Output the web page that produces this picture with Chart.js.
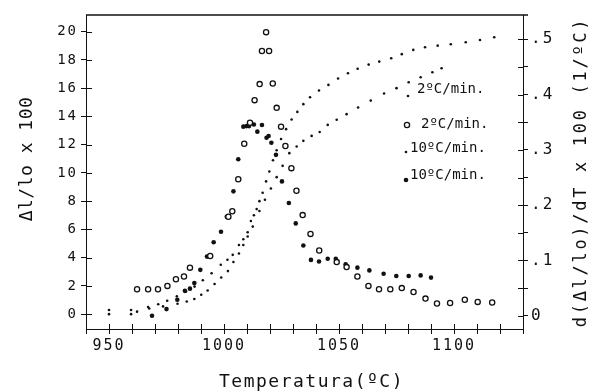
<!DOCTYPE html>
<html>
<head>
<meta charset="utf-8">
<style>
  html, body { margin: 0; padding: 0; background: #fff; }
</style>
<script src="https://cdn.jsdelivr.net/npm/chart.js@4.4.1/dist/chart.umd.min.js"></script>
</head>
<body>
<canvas id="dilChart" width="591" height="392"></canvas>
<script>
// Δl/lo x 100 at 2 ºC/min (small dots, upper S curve)
const temp2 = [950, 959.6, 967, 971.4, 975.3, 979.5, 983.5, 987.2, 990.8, 994.6, 998.6, 1001.5, 1003.8,
  1006.5, 1008.4, 1010.3, 1011.7, 1013, 1014.2, 1015.4, 1016.8, 1018.3, 1019.7, 1021.3, 1022.9, 1024.8,
  1027, 1029.4, 1031.9, 1034.5, 1037.4, 1041.3, 1045.4, 1049.6, 1053.9, 1058.1, 1062.9, 1067.5, 1072.7,
  1077.3, 1082.3, 1087.4, 1092.9, 1098.6, 1105.1, 1111.3, 1117.5];
const dl2 = [0.3, 0.3, 0.5, 0.7, 0.95, 1.26, 1.6, 1.95, 2.4, 2.9, 3.5, 3.85, 4.2,
  4.9, 5.3, 5.8, 6.6, 7.0, 7.44, 8.0, 8.6, 9.4, 10.1, 10.9, 11.6, 12.4,
  13.1, 13.78, 14.32, 14.87, 15.36, 15.83, 16.23, 16.68, 17.06, 17.38, 17.67, 17.88, 18.12,
  18.41, 18.71, 18.9, 19.01, 19.11, 19.25, 19.41, 19.6];

// Δl/lo x 100 at 10 ºC/min (small dots, lower S curve)
const temp10 = [950, 959.6, 962.2, 967.5, 973.5, 979.8, 983.8, 987.1, 990.1, 992.9, 995.9, 998.8, 1001.7,
  1004.1, 1006.5, 1008.4, 1010.3, 1012.5, 1015.4, 1017.8, 1020.4, 1022.9, 1025.5, 1028.4, 1031.6, 1034.5,
  1038.1, 1041.6, 1045.1, 1049, 1053.3, 1058.3, 1063.8, 1069.6, 1075, 1080.3, 1085.5, 1090.6, 1094.6];
const dl10 = [0.0, 0.0, 0.18, 0.4, 0.55, 0.74, 0.9, 1.07, 1.38, 1.68, 2.14, 2.6, 3.05,
  3.69, 4.3, 4.9, 5.5, 6.2, 7.3, 8.1, 8.9, 9.7, 10.5, 11.4, 11.87, 12.27,
  12.62, 12.9, 13.4, 13.76, 14.16, 14.63, 15.12, 15.62, 16.0, 16.42, 16.77, 17.13, 17.41];

// d(Δl/lo)/dT x 100 at 2 ºC/min (open circles, right axis)
const tempD2 = [962.2, 967.0, 971.3, 975.4, 979.1, 982.6, 985.2, 994.0, 1001.9, 1003.6, 1006.2, 1008.8,
  1011.3, 1013.3, 1015.5, 1016.5, 1018.3, 1019.6, 1021.2, 1022.9, 1024.8, 1026.7, 1029.3, 1031.5, 1034.2,
  1037.6, 1041.4, 1049.0, 1053.3, 1058.0, 1062.8, 1067.4, 1072.3, 1077.3, 1082.4, 1087.6, 1092.6, 1098.3,
  1104.7, 1110.3, 1116.6];
const deriv2 = [0.048, 0.048, 0.048, 0.054, 0.066, 0.071, 0.087, 0.108, 0.179, 0.189, 0.247, 0.311,
  0.349, 0.390, 0.419, 0.479, 0.513, 0.479, 0.420, 0.376, 0.342, 0.307, 0.267, 0.226, 0.182,
  0.148, 0.118, 0.097, 0.088, 0.071, 0.054, 0.048, 0.048, 0.050, 0.043, 0.031, 0.022, 0.023,
  0.029, 0.025, 0.024];

// d(Δl/lo)/dT x 100 at 10 ºC/min (filled dots, right axis)
const tempD10 = [968.7, 975.0, 979.7, 983.0, 985.2, 987.1, 989.7, 992.6, 995.5, 998.7, 1001.2, 1004.1,
  1006.2, 1008.4, 1009.8, 1010.9, 1013.0, 1014.5, 1016.5, 1018.5, 1019.4, 1020.6, 1022.6, 1025.2, 1028.2,
  1031.2, 1034.5, 1037.8, 1041.3, 1045.1, 1048.6, 1052.9, 1058.0, 1063.2, 1069.4, 1074.9, 1080.3, 1085.5, 1090.0];
const deriv10 = [0.0, 0.012, 0.029, 0.045, 0.049, 0.059, 0.083, 0.107, 0.133, 0.152, 0.179, 0.225,
  0.283, 0.342, 0.343, 0.343, 0.346, 0.333, 0.345, 0.322, 0.325, 0.313, 0.291, 0.243, 0.204,
  0.167, 0.127, 0.101, 0.098, 0.103, 0.103, 0.093, 0.087, 0.082, 0.076, 0.072, 0.072, 0.073, 0.069];

const seriesLabels = ["2ºC/min.", "2ºC/min.", "10ºC/min.", "10ºC/min."];
const xLabelValues = [950, 1000, 1050, 1100];
const yLeftTicks = [0, 2, 4, 6, 8, 10, 12, 14, 16, 18, 20];
const yRightTicks = [0, 0.05, 0.1, 0.15, 0.2, 0.25, 0.3, 0.35, 0.4, 0.45, 0.5];
const yRightLabels = ["0", "", ".1", "", ".2", "", ".3", "", ".4", "", ".5"];
const xTitle = "Temperatura(ºC)";
const yTitle = "Δl/lo x 100";
const y1Title = "d(Δl/lo)/dT x 100 (1/ºC)";

const ink = "#111";
const mono = "'DejaVu Sans Mono', monospace";

function pts(xs, ys) {
  return xs.map((x, i) => ({ x: x, y: ys[i] }));
}

// plotter style lettering on the axes
const spacing = {
  id: "spacing",
  beforeDraw(chart) { chart.ctx.letterSpacing = "2px"; },
  afterDraw(chart) { chart.ctx.letterSpacing = "0px"; }
};

function rotatedText(ctx, text, x, y, size, gap) {
  ctx.save();
  ctx.translate(x, y);
  ctx.rotate(-Math.PI / 2);
  ctx.font = size + "px " + mono;
  ctx.letterSpacing = gap + "px";
  ctx.textAlign = "center";
  ctx.textBaseline = "alphabetic";
  ctx.fillText(text, 0, 0);
  ctx.restore();
}

const frame = {
  id: "frame",
  afterDraw(chart) {
    const { ctx, chartArea: a, scales } = chart;
    ctx.save();
    ctx.strokeStyle = ink;
    ctx.fillStyle = ink;
    ctx.lineWidth = 1;
    // inner half of the cross ticks
    ctx.beginPath();
    scales.x.ticks.forEach((t) => {
      const p = Math.round(scales.x.getPixelForValue(t.value)) + 0.5;
      ctx.moveTo(p, a.bottom); ctx.lineTo(p, a.bottom - 5);
    });
    scales.y.ticks.forEach((t) => {
      const p = Math.round(scales.y.getPixelForValue(t.value)) + 0.5;
      ctx.moveTo(a.left, p); ctx.lineTo(a.left + 6, p);
    });
    scales.y1.ticks.forEach((t) => {
      const p = Math.round(scales.y1.getPixelForValue(t.value)) + 0.5;
      ctx.moveTo(a.right, p); ctx.lineTo(a.right - 5, p);
    });
    ctx.stroke();

    // top frame line
    ctx.lineWidth = 1.6;
    ctx.beginPath();
    ctx.moveTo(a.left, a.top);
    ctx.lineTo(a.right + 5, a.top);
    ctx.stroke();

    // axis titles
    ctx.font = "18px " + mono;
    ctx.letterSpacing = "1.5px";
    ctx.textAlign = "center";
    ctx.textBaseline = "alphabetic";
    ctx.fillText(xTitle, (a.left + a.right) / 2 + 7, 387);
    rotatedText(ctx, yTitle, 32, (a.top + a.bottom) / 2 - 13, 18, 0.5);
    rotatedText(ctx, y1Title, 586, (a.top + a.bottom) / 2, 17, 2.7);

    // legend inside the plot
    const rows = [[408, 96, 417, 89], [407, 125, 421, 124], [406, 152, 410, 148], [406, 180, 410, 175]];
    ctx.font = "14px " + mono;
    ctx.letterSpacing = "0px";
    ctx.textAlign = "left";
    ctx.textBaseline = "middle";
    rows.forEach((r, i) => {
      const ds = chart.data.datasets[i];
      ctx.beginPath();
      ctx.arc(r[0], r[1], ds.pointRadius, 0, Math.PI * 2);
      ctx.fillStyle = ds.backgroundColor;
      ctx.fill();
      if (ds.borderWidth) {
        ctx.lineWidth = ds.borderWidth;
        ctx.strokeStyle = ds.borderColor;
        ctx.stroke();
      }
      ctx.fillStyle = ink;
      ctx.fillText(ds.label, r[2], r[3]);
    });
    ctx.restore();
  }
};

const ctx = document.getElementById("dilChart").getContext("2d");

new Chart(ctx, {
  type: "scatter",
  data: {
    datasets: [
      { label: seriesLabels[0], data: pts(temp2, dl2), yAxisID: "y",
        pointRadius: 1.3, backgroundColor: ink, borderColor: ink, borderWidth: 0 },
      { label: seriesLabels[1], data: pts(tempD2, deriv2), yAxisID: "y1",
        pointRadius: 2.6, backgroundColor: "#fff", borderColor: ink, borderWidth: 1.3 },
      { label: seriesLabels[2], data: pts(temp10, dl10), yAxisID: "y",
        pointRadius: 1.3, backgroundColor: ink, borderColor: ink, borderWidth: 0 },
      { label: seriesLabels[3], data: pts(tempD10, deriv10), yAxisID: "y1",
        pointRadius: 2.3, backgroundColor: ink, borderColor: ink, borderWidth: 0 },
    ],
  },
  options: {
    responsive: false,
    animation: false,
    devicePixelRatio: 1,
    events: [],
    layout: { padding: { top: 15, left: 0, right: 0, bottom: 0 } },
    plugins: { legend: { display: false }, tooltip: { enabled: false } },
    scales: {
      x: {
        type: "linear",
        position: "bottom",
        min: 940,
        max: 1130,
        afterFit: (s) => { s.height = 63; },
        border: { color: ink, width: 1 },
        grid: { drawOnChartArea: false, color: ink, tickLength: 5 },
        ticks: {
          stepSize: 10, autoSkip: false, maxRotation: 0, padding: 3, color: ink,
          font: { family: mono, size: 15 },
          callback: (v) => (xLabelValues.includes(v) ? String(v) : ""),
        },
      },
      y: {
        position: "left",
        min: -1.05,
        max: 21.18,
        afterFit: (s) => { s.width = 86; },
        afterBuildTicks: (s) => { s.ticks = yLeftTicks.map((v) => ({ value: v })); },
        border: { color: ink, width: 1, dash: [5, 2] },
        grid: { drawOnChartArea: false, color: ink, tickLength: 5 },
        ticks: { padding: 3, color: ink, font: { family: mono, size: 14 }, callback: (v) => String(v) },
      },
      y1: {
        position: "right",
        min: -0.024,
        max: 0.544,
        afterFit: (s) => { s.width = 68; },
        afterBuildTicks: (s) => { s.ticks = yRightTicks.map((v) => ({ value: v })); },
        border: { color: ink, width: 1, dash: [5, 2] },
        grid: { drawOnChartArea: false, color: ink, tickLength: 5 },
        ticks: { padding: 3, color: ink, font: { family: mono, size: 16 }, callback: (v, i) => yRightLabels[i] },
      },
    },
  },
  plugins: [spacing, frame],
});
</script>
</body>
</html>
